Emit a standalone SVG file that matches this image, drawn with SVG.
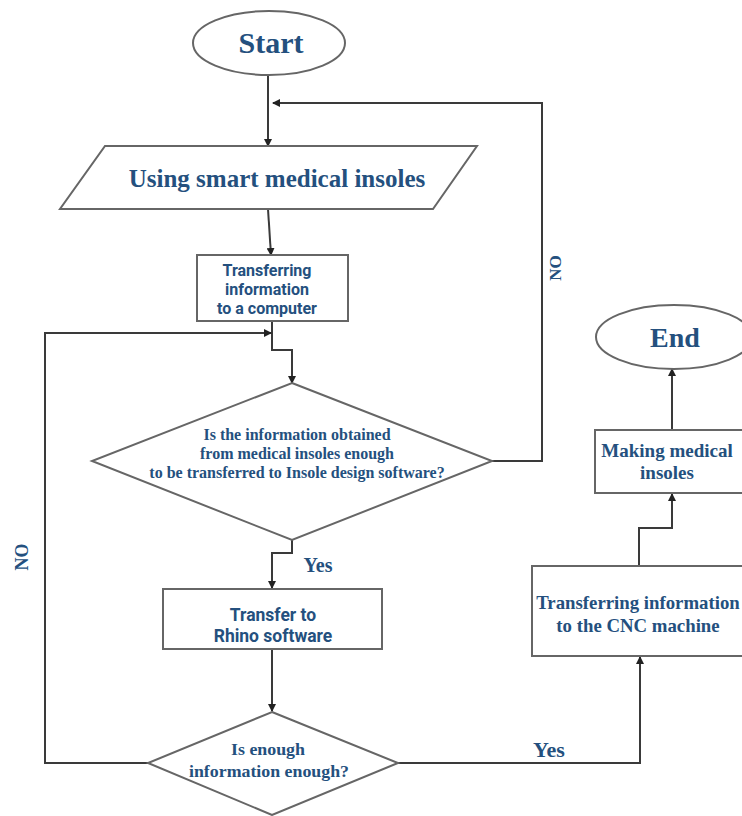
<svg xmlns="http://www.w3.org/2000/svg" width="742" height="816" viewBox="0 0 742 816">
<style>
.node{fill:#fff;stroke:#666;stroke-width:2}
.conn{fill:none;stroke:#3a3a3a;stroke-width:2}
.serif{font-family:"Liberation Serif","Times New Roman",serif;font-weight:bold;fill:#24507e;text-anchor:middle}
.sans{font-family:Roboto,"Liberation Sans",sans-serif;font-weight:bold;fill:#24507e;text-anchor:middle}
</style>
<defs>
<marker id="arr" markerWidth="8" markerHeight="8" refX="7" refY="4" orient="auto" markerUnits="userSpaceOnUse">
<path d="M0,0 L8,4 L0,8 Z" fill="#222"/>
</marker>
</defs>
<rect width="742" height="816" fill="#fff"/>
<g id="connectors">
<path class="conn" d="M268,75 V146" marker-end="url(#arr)"/>
<path class="conn" d="M492,461 H542 V103 H273" marker-end="url(#arr)"/>
<path class="conn" d="M268,209 L271,255" marker-end="url(#arr)"/>
<path class="conn" d="M272,321 V350 H292 V383" marker-end="url(#arr)"/>
<path class="conn" d="M148,763 H45 V333 H271" marker-end="url(#arr)"/>
<path class="conn" d="M292,540 V553 H272 V588" marker-end="url(#arr)"/>
<path class="conn" d="M272,649 V711" marker-end="url(#arr)"/>
<path class="conn" d="M398,763 H640 V657" marker-end="url(#arr)"/>
<path class="conn" d="M639,566 V528 H672 V494" marker-end="url(#arr)"/>
<path class="conn" d="M672,430 V369" marker-end="url(#arr)"/>
<text class="serif" font-size="20" x="318" y="572">Yes</text>
<text class="serif" font-size="22" x="549" y="757">Yes</text>
<text class="serif" font-size="18" transform="translate(28,557) rotate(-90)">NO</text>
<text class="serif" font-size="17" transform="translate(561,268) rotate(-90)">NO</text>
</g>
<g id="start">
<ellipse class="node" cx="269" cy="43" rx="76" ry="32"/>
<text class="serif" font-size="30" x="271" y="53">Start</text>
</g>
<g id="insoles">
<polygon class="node" points="105,146 477,146 433,209 60,209"/>
<text class="serif" font-size="25" x="277" y="187">Using smart medical insoles</text>
</g>
<g id="transfer-computer">
<rect class="node" x="197" y="255" width="151" height="66"/>
<text class="sans" font-size="16"><tspan x="267" y="276">Transferring</tspan><tspan x="267" y="295">information</tspan><tspan x="267" y="314">to a computer</tspan></text>
</g>
<g id="decision1">
<polygon class="node" points="292,383 492,461 292,540 92,461"/>
<text class="serif" font-size="16"><tspan x="297" y="440">Is the information obtained</tspan><tspan x="297" y="459">from medical insoles enough</tspan><tspan x="297" y="478">to be transferred to Insole design software?</tspan></text>
</g>
<g id="rhino">
<rect class="node" x="163" y="589" width="219" height="60"/>
<text class="sans" font-size="17.5"><tspan x="273" y="621">Transfer to</tspan><tspan x="273" y="642">Rhino software</tspan></text>
</g>
<g id="decision2">
<polygon class="node" points="272,712 398,763 272,815 148,763"/>
<text class="serif" font-size="17"><tspan x="268" y="755" textLength="74" lengthAdjust="spacingAndGlyphs">Is enough</tspan><tspan x="269" y="777" textLength="160" lengthAdjust="spacingAndGlyphs">information enough?</tspan></text>
</g>
<g id="cnc">
<rect class="node" x="532" y="566" width="214" height="90"/>
<text class="serif" font-size="18.8"><tspan x="638" y="609">Transferring information</tspan><tspan x="638" y="632">to the CNC machine</tspan></text>
</g>
<g id="making">
<rect class="node" x="595" y="430" width="150" height="63"/>
<text class="serif" font-size="19"><tspan x="667" y="457">Making medical</tspan><tspan x="667" y="479">insoles</tspan></text>
</g>
<g id="end">
<ellipse class="node" cx="674" cy="337" rx="78" ry="32"/>
<text class="serif" font-size="28" x="675" y="347">End</text>
</g>
</svg>
